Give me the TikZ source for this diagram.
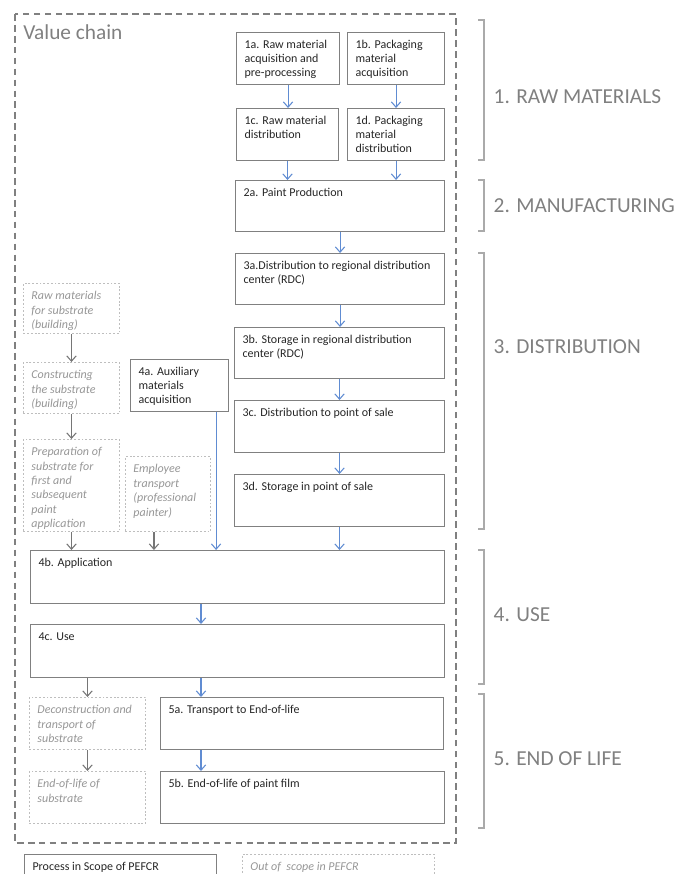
\documentclass[tikz,border=0pt]{standalone}
\usepackage{fontspec}
\setmainfont{Carlito}
\usepackage{xcolor}
\usetikzlibrary{positioning,calc,arrows.meta}

\definecolor{boxline}{RGB}{128,128,128}
\definecolor{boxtext}{RGB}{38,38,38}
\definecolor{oosline}{RGB}{190,190,190}
\definecolor{oostext}{RGB}{150,150,150}
\definecolor{arrblue}{RGB}{96,140,210}
\definecolor{arrgray}{RGB}{118,118,118}
\definecolor{framegray}{RGB}{128,128,128}
\definecolor{brkgray}{RGB}{170,170,170}
\definecolor{phasegray}{RGB}{128,128,128}

\newlength{\pxu}
\setlength{\pxu}{0.75pt}
% box of W x H px, text set from the top left corner
\newcommand{\cell}[3]{\parbox[c][#2\pxu][t]{#1\pxu}{\raggedright\leftskip=8\pxu\vspace*{8\pxu}#3}}

\tikzset{
  procbox/.style={draw=boxline, line width=0.8pt, inner sep=0pt, anchor=north west,
    text=boxtext, font=\fontsize{9}{10.5}\selectfont},
  oosbox/.style={draw=oosline, line width=0.7pt, dash pattern=on 1.4pt off 1.4pt,
    inner sep=0pt, anchor=north west, text=oostext,
    font=\fontsize{9}{10.8}\selectfont\itshape},
  arrin/.style={draw=arrblue, line width=0.8pt, -{Straight Barb[length=4pt,width=7pt]}},
  arrout/.style={draw=arrgray, line width=0.8pt, -{Straight Barb[length=4pt,width=7pt]}},
  brk/.style={draw=brkgray, line width=1.4pt},
  phase/.style={anchor=west, text=phasegray, font=\fontsize{16}{19}\selectfont},
}

\begin{document}
\begin{tikzpicture}[x=0.75pt,y=-0.75pt]
    \useasboundingbox (0,0) rectangle (678,874);
    \clip (0,0) rectangle (678,874);

    % value chain frame
    \draw[framegray, line width=1.2pt, dash pattern=on 5pt off 3.2pt] (15,14) rectangle (456,843);
    \node[anchor=base west, inner sep=0pt, text=framegray, font=\fontsize{16}{19}\selectfont] (vchain) at (23,40) {Value chain};

    % 1. raw materials
    \node[procbox] (rm1a) at (236,32) {\cell{103}{52}{1a. Raw material\\acquisition and\\pre-processing}};
    \node[procbox] (rm1b) at (347,32) {\cell{97}{52}{1b. Packaging\\material\\acquisition}};
    \node[procbox] (rm1c) at (236,108) {\cell{102}{52}{1c. Raw material\\distribution}};
    \node[procbox] (rm1d) at (347,108) {\cell{97}{52}{1d. Packaging\\material\\distribution}};

    % 2. manufacturing
    \node[procbox] (mf2a) at (235,180) {\cell{209}{51}{2a. Paint Production}};

    % 3. distribution
    \node[procbox] (ds3a) at (235,253) {\cell{209}{51}{3a.Distribution to regional distribution\\center (RDC)}};
    \node[procbox] (ds3b) at (234,327) {\cell{210}{51}{3b. Storage in regional distribution\\center (RDC)}};
    \node[procbox] (ds3c) at (234,400) {\cell{210}{52}{3c. Distribution to point of sale}};
    \node[procbox] (ds3d) at (234,474) {\cell{210}{52}{3d. Storage in point of sale}};

    % 4. use
    \node[procbox] (use4a) at (130,359) {\cell{98}{52}{4a. Auxiliary\\materials\\acquisition}};
    \node[procbox] (use4b) at (30,550) {\cell{414}{53}{4b. Application}};
    \node[procbox] (use4c) at (30,624) {\cell{414}{53}{4c. Use}};

    % 5. end of life
    \node[procbox] (eol5a) at (160,697) {\cell{283}{52}{5a. Transport to End-of-life}};
    \node[procbox] (eol5b) at (160,771) {\cell{284}{52}{5b. End-of-life of paint film}};

    % out of scope
    \node[oosbox] (subRaw) at (23,283) {\cell{96}{50}{Raw materials\\for substrate\\(building)}};
    \node[oosbox] (subBuild) at (23,362) {\cell{96}{51}{Constructing\\the substrate\\(building)}};
    \node[oosbox] (subPrep) at (23,439) {\cell{96}{92}{Preparation of\\substrate for\\first and\\subsequent\\paint\\application}};
    \node[oosbox] (empTrans) at (125,456) {\cell{85}{75}{Employee\\transport\\(professional\\painter)}};
    \node[oosbox] (subDecon) at (29,697) {\cell{116}{52}{Deconstruction and\\transport of\\substrate}};
    \node[oosbox] (subEol) at (29,771) {\cell{116}{52}{End-of-life of\\substrate}};

    % legend
    \node[procbox] (legIn) at (24,854) {\cell{192}{40}{Process in Scope of PEFCR}};
    \node[oosbox] (legOut) at (242,854) {\cell{192}{40}{Out of~ scope in PEFCR}};

    \coordinate (midcol) at (201,0);
    \coordinate (auxOut) at ([xshift=-13\pxu]use4a.south east);
    \coordinate (empOut) at ([xshift=-14\pxu]empTrans.south);

    % flows in scope
    \draw[arrin] (rm1a.south) -- (rm1a.south |- rm1c.north);
    \draw[arrin] (rm1b.south) -- (rm1b.south |- rm1d.north);
    \draw[arrin] (rm1c.south) -- (rm1c.south |- mf2a.north);
    \draw[arrin] (rm1d.south) -- (rm1d.south |- mf2a.north);
    \draw[arrin] (mf2a.south) -- (ds3a.north -| mf2a.south);
    \draw[arrin] (ds3a.south) -- (ds3a.south |- ds3b.north);
    \draw[arrin] (ds3b.south) -- (ds3b.south |- ds3c.north);
    \draw[arrin] (ds3c.south) -- (ds3c.south |- ds3d.north);
    \draw[arrin] (ds3d.south) -- (ds3d.south |- use4b.north);
    \draw[arrin] (auxOut) -- (auxOut |- use4b.north);
    \draw[arrin] (use4b.south -| midcol) -- (use4c.north -| midcol);
    \draw[arrin] (use4c.south -| midcol) -- (eol5a.north -| midcol);
    \draw[arrin] (eol5a.south -| midcol) -- (eol5b.north -| midcol);

    % flows out of scope
    \draw[arrout] (subRaw.south) -- (subBuild.north);
    \draw[arrout] (subBuild.south) -- (subPrep.north);
    \draw[arrout] (subPrep.south) -- (subPrep.south |- use4b.north);
    \draw[arrout] (empOut) -- (empOut |- use4b.north);
    \draw[arrout] (use4c.south -| subDecon.north) -- (subDecon.north);
    \draw[arrout] (subDecon.south) -- (subEol.north);

    % life cycle stages
    \foreach \top/\bot/\ly/\txt [count=\k] in {20/160/97/1. RAW MATERIALS, 180/231/206/2. MANUFACTURING,
        253/529/347/3. DISTRIBUTION, 550/684/615/4. USE, 694/828/759/5. END OF LIFE} {
        \draw[brk] (478,\top) -- (484,\top) -- (484,\bot) -- (478,\bot);
        \node[phase] (phase\k) at (489,\ly) {\txt};
    }
\end{tikzpicture}
\end{document}
